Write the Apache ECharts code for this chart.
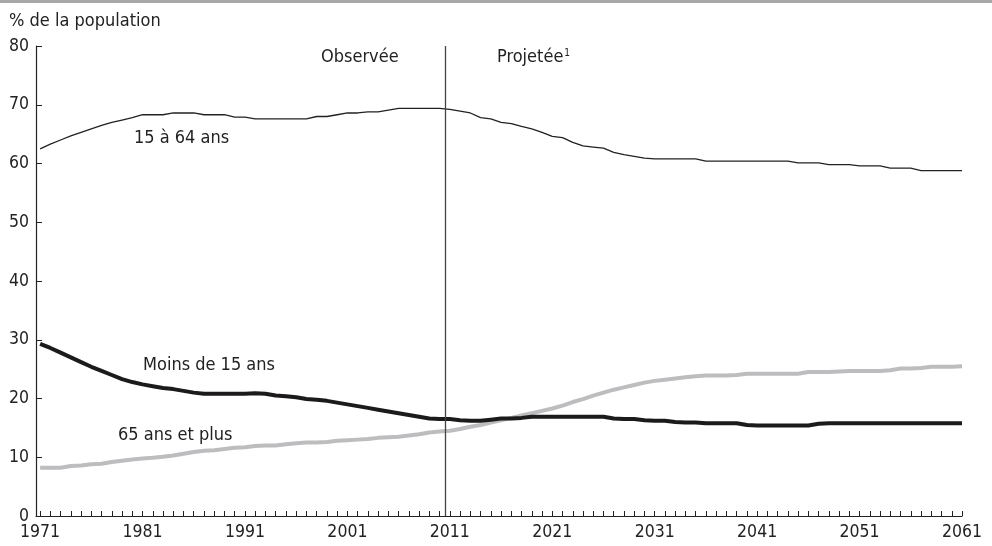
<!DOCTYPE html>
<html><head><meta charset="utf-8">
<script src="https://cdn.jsdelivr.net/npm/echarts@6/dist/echarts.min.js"></script>
<style>html,body{margin:0;padding:0;background:#fff}#c{width:992px;height:546px}</style>
</head><body><div id="c"></div>
<script>
const startYear = 1971;
const endYear = 2061;
const tickLabels = [1971, 1981, 1991, 2001, 2011, 2021, 2031, 2041, 2051, 2061];
const splitYear = 2010.6;

const age15to64 = [
 62.5,63.3,64.0,64.7,65.3,65.9,66.5,67.0,67.4,67.8,
 68.3,68.3,68.3,68.6,68.6,68.6,68.3,68.3,68.3,67.9,
 67.9,67.6,67.6,67.6,67.6,67.6,67.6,68.0,68.0,68.3,
 68.6,68.6,68.8,68.8,69.1,69.4,69.4,69.4,69.4,69.4,
 69.2,68.9,68.6,67.8,67.6,67.0,66.8,66.3,65.9,65.3,
 64.6,64.4,63.6,63.0,62.8,62.6,61.9,61.5,61.2,60.9,
 60.8,60.8,60.8,60.8,60.8,60.4,60.4,60.4,60.4,60.4,
 60.4,60.4,60.4,60.4,60.1,60.1,60.1,59.8,59.8,59.8,
 59.6,59.6,59.6,59.2,59.2,59.2,58.8,58.8,58.8,58.8,
 58.8
];
const under15 = [
 29.3,28.6,27.8,27.0,26.2,25.4,24.7,24.0,23.3,22.8,
 22.4,22.1,21.8,21.6,21.3,21.0,20.8,20.8,20.8,20.8,
 20.8,20.9,20.8,20.5,20.4,20.2,19.9,19.8,19.6,19.3,
 19.0,18.7,18.4,18.1,17.8,17.5,17.2,16.9,16.6,16.5,
 16.5,16.3,16.2,16.2,16.4,16.6,16.6,16.7,16.9,16.9,
 16.9,16.9,16.9,16.9,16.9,16.9,16.6,16.5,16.5,16.3,
 16.2,16.2,16.0,15.9,15.9,15.8,15.8,15.8,15.8,15.5,
 15.4,15.4,15.4,15.4,15.4,15.4,15.7,15.8,15.8,15.8,
 15.8,15.8,15.8,15.8,15.8,15.8,15.8,15.8,15.8,15.8,
 15.8
];
const age65plus = [
 8.2,8.2,8.2,8.5,8.6,8.8,8.9,9.2,9.4,9.6,
 9.8,9.9,10.1,10.3,10.6,10.9,11.1,11.2,11.4,11.6,
 11.7,11.9,12.0,12.0,12.2,12.4,12.5,12.5,12.6,12.8,
 12.9,13.0,13.1,13.3,13.4,13.5,13.7,13.9,14.2,14.4,
 14.5,14.8,15.2,15.5,15.9,16.3,16.7,17.1,17.5,17.9,
 18.3,18.8,19.4,19.9,20.5,21.0,21.5,21.9,22.3,22.7,
 23.0,23.2,23.4,23.6,23.8,23.9,23.9,23.9,24.0,24.2,
 24.2,24.2,24.2,24.2,24.2,24.5,24.5,24.5,24.6,24.7,
 24.7,24.7,24.7,24.8,25.1,25.1,25.2,25.4,25.4,25.4,
 25.5,25.8
];

const years = [];
for (let y = startYear; y <= endYear; y++) years.push(y);
const pairs = arr => years.map((y, i) => [y, arr[i]]);

const FONT = "'DejaVu Sans Condensed', 'Liberation Sans', sans-serif";
const chart = echarts.init(document.getElementById('c'), null, {renderer: 'canvas'});
chart.setOption({
  animation: false,
  backgroundColor: '#fff',
  grid: {left: 36, right: 30, top: 46, bottom: 30},
  xAxis: {
    type: 'value', min: 1970.6, max: 2061,
    axisLine: {show: true, onZero: false, lineStyle: {color: '#222', width: 1.2}},
    axisTick: {show: true, inside: true, length: 5, customValues: years, lineStyle: {color: '#222', width: 1}},
    axisLabel: {customValues: tickLabels, formatter: v => String(v), color: '#222', fontFamily: FONT, fontSize: 17.5, margin: 7},
    splitLine: {show: false}
  },
  yAxis: {
    type: 'value', min: 0, max: 80, interval: 10,
    axisLine: {show: true, lineStyle: {color: '#222', width: 1.2}},
    axisTick: {show: true, inside: true, length: 6, lineStyle: {color: '#222', width: 1}},
    axisLabel: {color: '#222', fontFamily: FONT, fontSize: 17.5, margin: 7},
    splitLine: {show: false}
  },
  series: [
    {name: '65 ans et plus', type: 'line', data: pairs(age65plus), showSymbol: false, symbol: 'none',
     lineStyle: {color: '#bdbdc0', width: 4}},
    {name: 'Moins de 15 ans', type: 'line', data: pairs(under15), showSymbol: false, symbol: 'none',
     lineStyle: {color: '#1c1a1a', width: 4}},
    {name: '15 à 64 ans', type: 'line', data: pairs(age15to64), showSymbol: false, symbol: 'none',
     lineStyle: {color: '#222', width: 1.3},
     markLine: {silent: true, symbol: 'none', label: {show: false},
       lineStyle: {color: '#444', width: 1.3, type: 'solid'},
       data: [{xAxis: splitYear}]}}
  ],
  graphic: [
    {type: 'rect', left: 0, top: 0, shape: {width: 992, height: 3}, style: {fill: '#a8a8aa'}},
    {type: 'text', left: 9, top: 12, style: {text: '% de la population', fill: '#222', font: '18px ' + FONT}},
    {type: 'text', left: 321, top: 48, style: {text: 'Observée', fill: '#222', font: '18px ' + FONT}},
    {type: 'text', left: 497, top: 48, style: {text: '{a|Projetée}{s|1}', rich: {
      a: {fill: '#222', fontFamily: FONT, fontSize: 18},
      s: {fill: '#222', fontFamily: FONT, fontSize: 10, verticalAlign: 'top', padding: [0,0,8,1]}}}},
    {type: 'text', left: 134, top: 129, style: {text: '15 à 64 ans', fill: '#222', font: '18px ' + FONT}},
    {type: 'text', left: 143, top: 356, style: {text: 'Moins de 15 ans', fill: '#222', font: '18px ' + FONT}},
    {type: 'text', left: 118, top: 426, style: {text: '65 ans et plus', fill: '#222', font: '18px ' + FONT}}
  ]
});
</script></body></html>
